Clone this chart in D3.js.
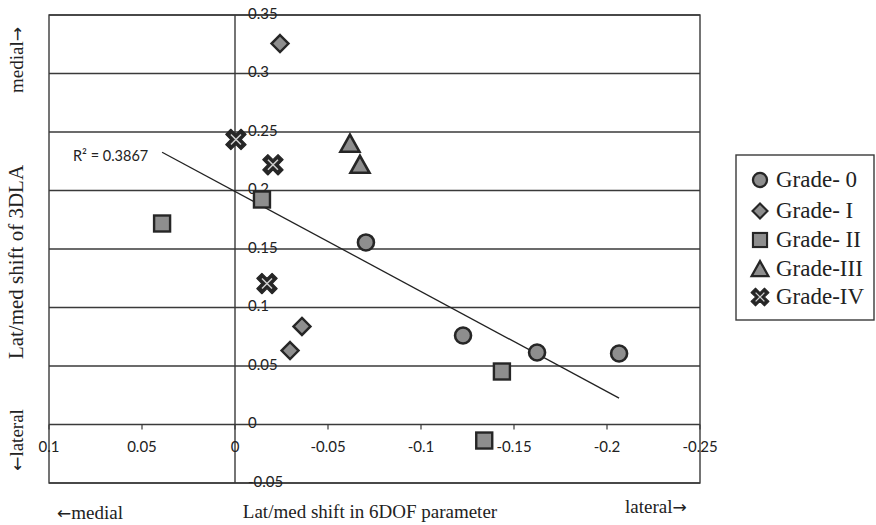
<!DOCTYPE html>
<html><head><meta charset="utf-8">
<script src="https://cdn.jsdelivr.net/npm/d3@7"></script>
<style>body{margin:0;background:#fff}svg{display:block}</style>
</head><body><svg id="c" width="876" height="525"></svg>
<script>
// ---- data ----
const seriesNames = ["Grade- 0", "Grade- I", "Grade- II", "Grade-III", "Grade-IV"];
const grade0X = [-0.0704, -0.1226, -0.1624, -0.2065];
const grade0Y = [0.1556, 0.0761, 0.0615, 0.0607];
const grade1X = [-0.0242, -0.0360, -0.0296];
const grade1Y = [0.3256, 0.0838, 0.0632];
const grade2X = [0.0392, -0.0145, -0.1435, -0.1340];
const grade2Y = [0.1718, 0.1923, 0.0453, -0.0137];
const grade3X = [-0.0618, -0.0672];
const grade3Y = [0.2400, 0.2220];
const grade4X = [-0.0005, -0.0204, -0.0172];
const grade4Y = [0.2436, 0.2220, 0.1205];
const xTicks = [0.1, 0.05, 0, -0.05, -0.1, -0.15, -0.2, -0.25];
const yTicks = [0.35, 0.3, 0.25, 0.2, 0.15, 0.1, 0.05, 0, -0.05];
const r2Label = "R\u00b2 = 0.3867";

const svg = d3.select("#c");
svg.append("rect").attr("width", 876).attr("height", 525).attr("fill", "#fff");

const L = 49, R = 700, T = 15, B = 483;
const x = d3.scaleLinear().domain([0.1, -0.25]).range([L, R]);
const y = d3.scaleLinear().domain([-0.05, 0.35]).range([B, T]);

const lineCol = "#3a3a3a";
const fillCol = "#8e8e8e";
const strokeCol = "#262626";
const tickFont = "Lato, 'Open Sans', sans-serif";
const serif = "'Liberation Serif', 'DejaVu Serif', serif";
const arrowFont = "'DejaVu Sans', sans-serif";

// gridlines
svg.append("g").selectAll("line").data(yTicks).join("line")
  .attr("x1", L).attr("x2", R)
  .attr("y1", d => y(d)).attr("y2", d => y(d))
  .attr("stroke", lineCol).attr("stroke-width", 1.4);
// border
svg.append("rect").attr("x", L).attr("y", T).attr("width", R - L).attr("height", B - T)
  .attr("fill", "none").attr("stroke", lineCol).attr("stroke-width", 1.4);
// vertical axis at x=0
svg.append("line").attr("x1", x(0)).attr("x2", x(0)).attr("y1", T).attr("y2", B)
  .attr("stroke", lineCol).attr("stroke-width", 1.4);

// x ticks
svg.append("g").selectAll("line").data(xTicks).join("line")
  .attr("x1", d => x(d)).attr("x2", d => x(d))
  .attr("y1", y(0)).attr("y2", y(0) + 5)
  .attr("stroke", lineCol).attr("stroke-width", 1.2);
svg.append("g").selectAll("text").data(xTicks).join("text")
  .attr("x", d => x(d)).attr("y", y(0) + 24)
  .attr("text-anchor", "middle").attr("dominant-baseline", "middle")
  .attr("font-family", tickFont).attr("font-size", 15).attr("fill", "#222")
  .text(d => String(d));
// y tick labels
svg.append("g").selectAll("text").data(yTicks).join("text")
  .attr("x", x(0) + 13).attr("y", d => y(d))
  .attr("dominant-baseline", "middle")
  .attr("font-family", tickFont).attr("font-size", 15).attr("fill", "#222")
  .text(d => String(d));

// trendline (least squares over all points)
const allX = [].concat(grade0X, grade1X, grade2X, grade3X, grade4X);
const allY = [].concat(grade0Y, grade1Y, grade2Y, grade3Y, grade4Y);
const mx = d3.mean(allX), my = d3.mean(allY);
const sxy = d3.sum(allX, (v, i) => (v - mx) * (allY[i] - my));
const sxx = d3.sum(allX, v => (v - mx) * (v - mx));
const slope = sxy / sxx, icpt = my - slope * mx;
const [xmin, xmax] = d3.extent(allX);
svg.append("line")
  .attr("x1", x(xmax)).attr("y1", y(slope * xmax + icpt))
  .attr("x2", x(xmin)).attr("y2", y(slope * xmin + icpt))
  .attr("stroke", "#222").attr("stroke-width", 1.3);
svg.append("text").attr("x", 73).attr("y", 157).attr("dominant-baseline", "middle")
  .attr("font-family", tickFont).attr("font-size", 14.5).attr("fill", "#222").text(r2Label);

// marker drawers
function marker(g, type, s) {
  if (type === 0) {
    g.append("circle").attr("r", 8 * s).attr("fill", fillCol).attr("stroke", strokeCol).attr("stroke-width", 2.6 * s);
  } else if (type === 1) {
    const h = 8.5 * s;
    g.append("path").attr("d", `M0,${-h}L${h},0L0,${h}L${-h},0Z`)
      .attr("fill", fillCol).attr("stroke", strokeCol).attr("stroke-width", 2.4 * s);
  } else if (type === 2) {
    const h = 8 * s;
    g.append("rect").attr("x", -h).attr("y", -h).attr("width", 2 * h).attr("height", 2 * h)
      .attr("fill", fillCol).attr("stroke", strokeCol).attr("stroke-width", 2.4 * s);
  } else if (type === 3) {
    g.append("path").attr("d", `M0,${-9 * s}L${9.5 * s},${8 * s}L${-9.5 * s},${8 * s}Z`)
      .attr("fill", fillCol).attr("stroke", strokeCol).attr("stroke-width", 2.6 * s)
      .attr("stroke-linejoin", "miter");
  } else {
    g.append("path").attr("d", d3.symbol(d3.symbolCross, 260 * s * s)())
      .attr("transform", "rotate(45)").attr("fill", strokeCol)
      .attr("stroke", strokeCol).attr("stroke-width", 1.2 * s).attr("stroke-linejoin", "round");
    const k = 5 * s;
    g.append("path").attr("d", `M${-k},${-k}L${k},${k}M${-k},${k}L${k},${-k}`)
      .attr("stroke", "#cfcfcf").attr("stroke-width", 1.5 * s);
  }
}

const seriesX = [grade0X, grade1X, grade2X, grade3X, grade4X];
const seriesY = [grade0Y, grade1Y, grade2Y, grade3Y, grade4Y];
seriesX.forEach((xs, si) => {
  xs.forEach((xv, i) => {
    const g = svg.append("g").attr("transform", `translate(${x(xv)},${y(seriesY[si][i])})`);
    marker(g, si, 1);
  });
});

// axis titles
function title(txt, opts) {
  const t = svg.append("text").attr("font-family", serif).attr("font-size", 19).attr("fill", "#222");
  if (opts.transform) t.attr("transform", opts.transform);
  if (opts.x != null) t.attr("x", opts.x).attr("y", opts.y);
  if (opts.anchor) t.attr("text-anchor", opts.anchor);
  txt.forEach(p => {
    const ts = t.append("tspan").text(p.s);
    if (p.arrow) ts.attr("font-family", arrowFont).attr("font-size", 17);
  });
  return t;
}
title([{s: "Lat/med shift in 6DOF parameter"}], {x: 370, y: 518, anchor: "middle"});
title([{s: "\u2190", arrow: true}, {s: "medial"}], {x: 57, y: 519});
title([{s: "lateral"}, {s: "\u2192", arrow: true}], {x: 625, y: 513});
title([{s: "Lat/med shift of 3DLA"}], {transform: "translate(23,262) rotate(-90)", anchor: "middle"})
  .attr("font-size", 21);
title([{s: "medial"}, {s: "\u2192", arrow: true}], {transform: "translate(23,60) rotate(-90)", anchor: "middle"});
title([{s: "\u2190", arrow: true}, {s: "lateral"}], {transform: "translate(23,440) rotate(-90)", anchor: "middle"});

// legend
svg.append("rect").attr("x", 736).attr("y", 155).attr("width", 138).attr("height", 165)
  .attr("fill", "#fff").attr("stroke", lineCol).attr("stroke-width", 1.4);
const legY = [180, 211, 240, 269, 297];
seriesNames.forEach((n, i) => {
  const g = svg.append("g").attr("transform", `translate(760,${legY[i]})`);
  marker(g, i, 0.88);
  svg.append("text").attr("x", 776).attr("y", legY[i] + 7)
    .attr("font-family", serif).attr("font-size", 23).attr("fill", "#222").text(n);
});
</script></body></html>
